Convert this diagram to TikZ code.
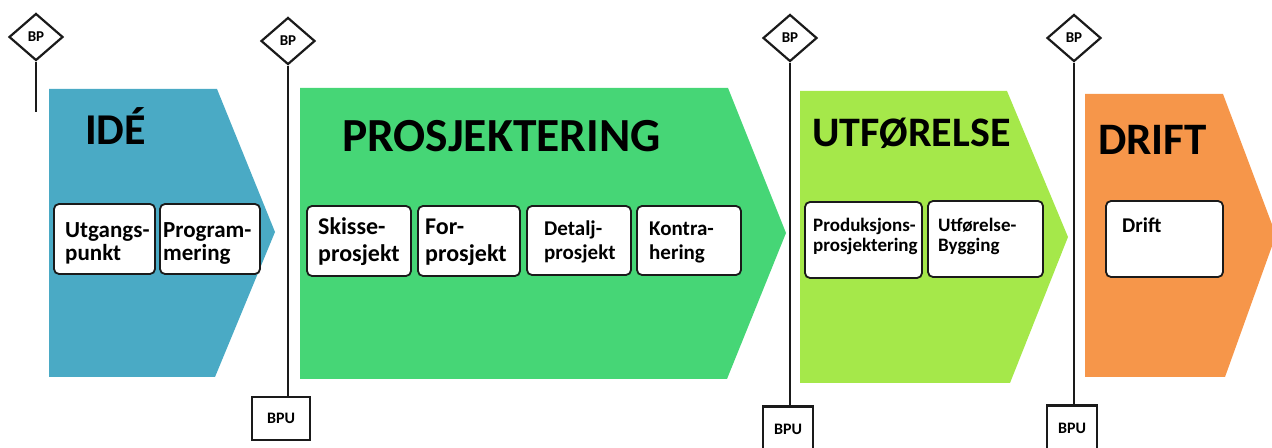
\documentclass[tikz,border=0pt]{standalone}
\usepackage{fontspec}
\setmainfont{Carlito}
\usetikzlibrary{shapes.geometric}
\definecolor{ideblue}{HTML}{4AAAC5}
\definecolor{progreen}{HTML}{46D676}
\definecolor{utfgreen}{HTML}{A5E84A}
\definecolor{driftorange}{HTML}{F6964A}
\definecolor{ink}{HTML}{1A1A1A}
% bold Carlito at a given size and leading (in bp)
\newcommand\fs[2]{\fontsize{#1bp}{#2bp}\selectfont\bfseries}

\begin{document}
\begin{tikzpicture}[x=1bp,y=-1bp,
  title/.style={anchor=base west, inner sep=0, font=\fs{#1}{#1}},
  task/.style={draw=ink, fill=white, line width=1.8bp, rounded corners=5bp, inner sep=0},
  tasktext/.style={anchor=base west, inner sep=0, align=left, font=#1},
  gate/.style={diamond, draw=ink, line width=2.2bp, fill=white, minimum width=54bp,
    minimum height=47bp, inner sep=0, font=\fs{15}{15}},
  review/.style={draw=ink, line width=2.2bp, fill=white, minimum width=50bp,
    minimum height=45bp, inner sep=0, font=\fs{16}{16}},
  stem/.style={draw=ink, line width=2.2bp}]

\useasboundingbox (0,0) rectangle (1272,448);

% phase chevrons
\fill[ideblue] (49,89) -- (217,89) -- (275,232) -- (215,377) -- (49,377) -- cycle;
\fill[progreen] (300,88) -- (728,88) -- (786,233) -- (727,379) -- (300,379) -- cycle;
\fill[utfgreen] (800,91) -- (1007,91) -- (1068,237) -- (1010,383) -- (800,383) -- cycle;
\fill[driftorange] (1085,94) -- (1223,94) -- (1276,235) -- (1225,377) -- (1085,377) -- cycle;

% phase titles
\node[title=44] (ide) at (85,145) {IDÉ};
\node[title=47.5] (pro) at (342,152) {PROSJEKTERING};
\node[title=42] (utf) at (812,147) {UTFØRELSE};
\node[title=45] (dri) at (1098,155) {DRIFT};

% decision gates and reviews
\node[gate] (bp1) at (36,37) {BP};
\node[gate] (bp2) at (288,41) {BP};
\node[gate] (bp3) at (790,38) {BP};
\node[gate] (bp4) at (1074,38) {BP};
\coordinate (stem1) at (36,112);
\node[review, minimum width=58bp, minimum height=43bp] (bpu2) at (281,418.5) {BPU};
\node[review] (bpu3) at (788,429) {BPU};
\node[review] (bpu4) at (1072,428) {BPU};

\draw[stem] (bp1.south) -- (stem1);
\draw[stem] (bp2.south) -- (bp2.south |- bpu2.north);
\draw[stem] (bp3.south) -- (bp3.south |- bpu3.north);
\draw[stem] (bp4.south) -- (bp4.south |- bpu4.north);

% activity boxes
\node[task, minimum width=101bp, minimum height=70bp] (b1) at (104.5,239) {};
\node[task, minimum width=100bp, minimum height=70bp] (b2) at (210,239) {};
\node[task, minimum width=104bp, minimum height=70bp] (b3) at (359,241) {};
\node[task, minimum width=102bp, minimum height=70bp] (b4) at (469,241) {};
\node[task, minimum width=104bp, minimum height=69bp] (b5) at (579,240.5) {};
\node[task, minimum width=104bp, minimum height=69bp] (b6) at (689,240.5) {};
\node[task, minimum width=117bp, minimum height=76bp] (b7) at (863.5,240) {};
\node[task, minimum width=115bp, minimum height=76bp] (b8) at (985.5,239) {};
\node[task, minimum width=117bp, minimum height=76bp] (b9) at (1164.5,239) {};

% activity labels (anchored at the baseline of the last line)
\node[tasktext={\fs{23}{23}}] (l1) at (65,261) {Utgangs-\\punkt};
\node[tasktext={\fs{23}{23}}] (l2) at (163,261) {Program-\\mering};
\node[tasktext={\fs{24}{27}}] (l3) at (318,262) {Skisse-\\prosjekt};
\node[tasktext={\fs{24}{27}}] (l4) at (425,262) {For-\\prosjekt};
\node[tasktext={\fs{21}{24}}] (l5) at (544,260) {Detalj-\\prosjekt};
\node[tasktext={\fs{21}{24}}] (l6) at (649,260) {Kontra-\\hering};
\node[tasktext={\fs{19}{20}}] (l7) at (813,252) {Produksjons-\\prosjektering};
\node[tasktext={\fs{19}{20}}] (l8) at (938,252) {Utførelse-\\Bygging};
\node[tasktext={\fs{21}{21}}] (l9) at (1122,233) {Drift};
\end{tikzpicture}
\end{document}
